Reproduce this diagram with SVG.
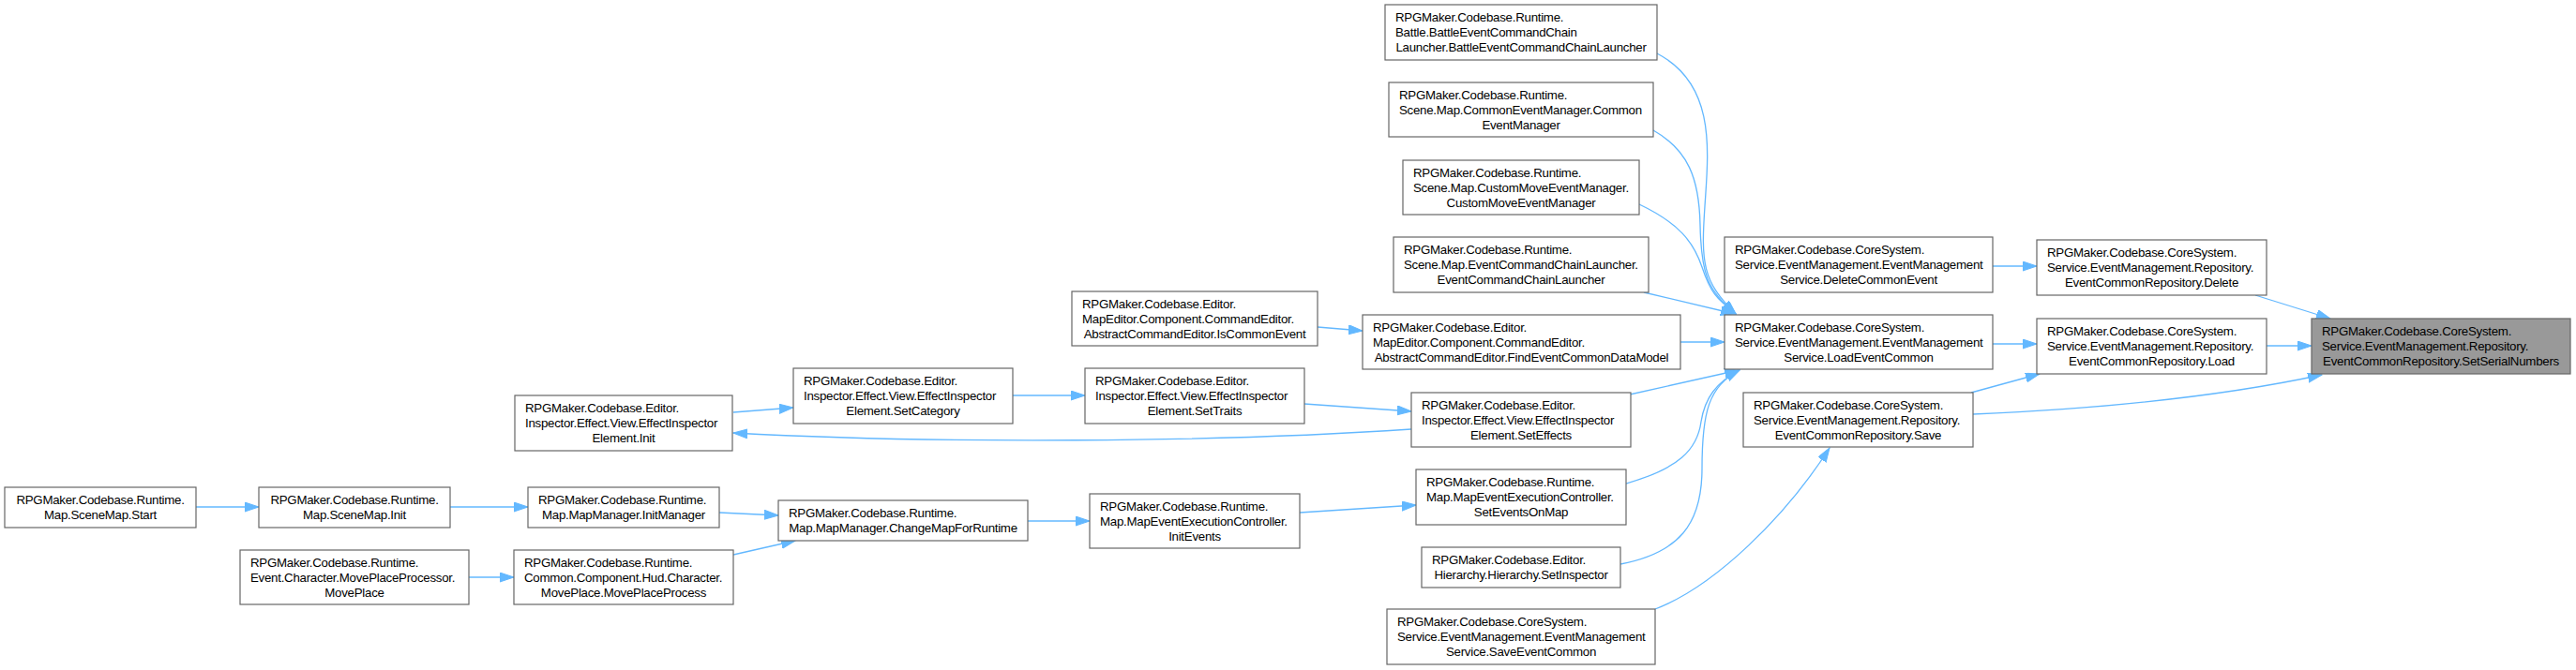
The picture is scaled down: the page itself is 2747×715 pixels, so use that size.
<svg xmlns="http://www.w3.org/2000/svg" width="2747" height="715" viewBox="0 0 2747 715">
<defs>
<style>
.n rect{fill:#ffffff;stroke:#666666;stroke-width:1.2}
.n.root rect{fill:#999999;stroke:#666666}
.n text{font-family:"Liberation Sans",Arial,sans-serif;font-size:13.3px;letter-spacing:-0.27px;fill:#000000}
.n text.c{text-anchor:middle}
.e path{fill:none;stroke:#63b8ff;stroke-width:1.3;marker-end:url(#ah)}
</style>
<marker id="ah" markerUnits="userSpaceOnUse" markerWidth="16" markerHeight="11" refX="15" refY="5" orient="auto" viewBox="0 0 16 11">
<path d="M0,0 L15,5 L0,10 z" fill="#63b8ff" stroke="#63b8ff" stroke-width="1"/>
</marker>
</defs>
<rect x="0" y="0" width="2747" height="715" fill="#ffffff"/>

<g id="connectors" class="e">
<path d="M2405,315 L2485,340"/>
<path d="M2417,369 L2465,369"/>
<path d="M2104,442 C2220,437 2360,425 2476,400"/>
<path d="M2102,419 L2175,399"/>
<path d="M2125,284 L2172,284"/>
<path d="M2125,367 L2172,367"/>
<path d="M1765,650 C1830,625 1905,550 1951,478"/>
<path d="M1767,57 C1830,90 1822,160 1818,220 S1815,300 1851,335"/>
<path d="M1763,139 C1800,160 1812,190 1813,240 S1820,310 1851,335"/>
<path d="M1748,218 C1790,238 1806,258 1815,285 S1830,318 1851,335"/>
<path d="M1753,312 L1850,335"/>
<path d="M1792,365 L1839,365"/>
<path d="M1738,421 L1854,395"/>
<path d="M1734,516 C1790,500 1810,480 1814,450 C1818,425 1830,408 1855,395"/>
<path d="M1728,602 C1790,590 1815,560 1815,500 C1815,440 1822,412 1855,395"/>
<path d="M1405,349 L1453,353"/>
<path d="M1391,431 L1505,439"/>
<path d="M1505,458 C1300,472 1000,474 782,462"/>
<path d="M782,440 L846,435"/>
<path d="M1080,422 L1157,422"/>
<path d="M209,541 L276,541"/>
<path d="M480,541 L563,541"/>
<path d="M500,616 L548,616"/>
<path d="M767,547 L830,550"/>
<path d="M782,592 L848,577"/>
<path d="M1096,556 L1162,556"/>
<path d="M1386,547 L1510,539"/>
</g>

<g id="n_setserialnumbers" class="n root">
<rect x="2465" y="340" width="276" height="59"/>
<text x="2476" y="358">RPGMaker.Codebase.CoreSystem.</text>
<text x="2476" y="374">Service.EventManagement.Repository.</text>
<text x="2603" y="390" class="c">EventCommonRepository.SetSerialNumbers</text>
</g>
<g id="n_repo_delete" class="n">
<rect x="2172" y="256" width="245" height="59"/>
<text x="2183" y="274">RPGMaker.Codebase.CoreSystem.</text>
<text x="2183" y="290">Service.EventManagement.Repository.</text>
<text x="2294.5" y="306" class="c">EventCommonRepository.Delete</text>
</g>
<g id="n_repo_load" class="n">
<rect x="2172" y="340" width="245" height="59"/>
<text x="2183" y="358">RPGMaker.Codebase.CoreSystem.</text>
<text x="2183" y="374">Service.EventManagement.Repository.</text>
<text x="2294.5" y="390" class="c">EventCommonRepository.Load</text>
</g>
<g id="n_deletecommonevent" class="n">
<rect x="1839" y="253" width="286" height="59"/>
<text x="1850" y="271">RPGMaker.Codebase.CoreSystem.</text>
<text x="1850" y="287">Service.EventManagement.EventManagement</text>
<text x="1982" y="303" class="c">Service.DeleteCommonEvent</text>
</g>
<g id="n_loadeventcommon" class="n">
<rect x="1839" y="336" width="286" height="58"/>
<text x="1850" y="354">RPGMaker.Codebase.CoreSystem.</text>
<text x="1850" y="370">Service.EventManagement.EventManagement</text>
<text x="1982" y="386" class="c">Service.LoadEventCommon</text>
</g>
<g id="n_repo_save" class="n">
<rect x="1859" y="419" width="245" height="58"/>
<text x="1870" y="437">RPGMaker.Codebase.CoreSystem.</text>
<text x="1870" y="453">Service.EventManagement.Repository.</text>
<text x="1981.5" y="469" class="c">EventCommonRepository.Save</text>
</g>
<g id="n_battlelauncher" class="n">
<rect x="1477" y="5" width="290" height="59"/>
<text x="1488" y="23">RPGMaker.Codebase.Runtime.</text>
<text x="1488" y="39">Battle.BattleEventCommandChain</text>
<text x="1622" y="55" class="c">Launcher.BattleEventCommandChainLauncher</text>
</g>
<g id="n_commoneventmanager" class="n">
<rect x="1481" y="88" width="282" height="58"/>
<text x="1492" y="106">RPGMaker.Codebase.Runtime.</text>
<text x="1492" y="122">Scene.Map.CommonEventManager.Common</text>
<text x="1622" y="138" class="c">EventManager</text>
</g>
<g id="n_custommove" class="n">
<rect x="1496" y="171" width="252" height="58"/>
<text x="1507" y="189">RPGMaker.Codebase.Runtime.</text>
<text x="1507" y="205">Scene.Map.CustomMoveEventManager.</text>
<text x="1622" y="221" class="c">CustomMoveEventManager</text>
</g>
<g id="n_eventcommandchainlauncher" class="n">
<rect x="1486" y="253" width="272" height="59"/>
<text x="1497" y="271">RPGMaker.Codebase.Runtime.</text>
<text x="1497" y="287">Scene.Map.EventCommandChainLauncher.</text>
<text x="1622" y="303" class="c">EventCommandChainLauncher</text>
</g>
<g id="n_findeventcommon" class="n">
<rect x="1453" y="336" width="339" height="58"/>
<text x="1464" y="354">RPGMaker.Codebase.Editor.</text>
<text x="1464" y="370">MapEditor.Component.CommandEditor.</text>
<text x="1622.5" y="386" class="c">AbstractCommandEditor.FindEventCommonDataModel</text>
</g>
<g id="n_seteffects" class="n">
<rect x="1505" y="419" width="234" height="58"/>
<text x="1516" y="437">RPGMaker.Codebase.Editor.</text>
<text x="1516" y="453">Inspector.Effect.View.EffectInspector</text>
<text x="1622" y="469" class="c">Element.SetEffects</text>
</g>
<g id="n_seteventsonmap" class="n">
<rect x="1510" y="501" width="224" height="59"/>
<text x="1521" y="519">RPGMaker.Codebase.Runtime.</text>
<text x="1521" y="535">Map.MapEventExecutionController.</text>
<text x="1622" y="551" class="c">SetEventsOnMap</text>
</g>
<g id="n_setinspector" class="n">
<rect x="1516" y="584" width="212" height="43"/>
<text x="1527" y="602">RPGMaker.Codebase.Editor.</text>
<text x="1622" y="618" class="c">Hierarchy.Hierarchy.SetInspector</text>
</g>
<g id="n_saveeventcommon" class="n">
<rect x="1479" y="650" width="286" height="59"/>
<text x="1490" y="668">RPGMaker.Codebase.CoreSystem.</text>
<text x="1490" y="684">Service.EventManagement.EventManagement</text>
<text x="1622" y="700" class="c">Service.SaveEventCommon</text>
</g>
<g id="n_iscommonevent" class="n">
<rect x="1143" y="311" width="262" height="58"/>
<text x="1154" y="329">RPGMaker.Codebase.Editor.</text>
<text x="1154" y="345">MapEditor.Component.CommandEditor.</text>
<text x="1274" y="361" class="c">AbstractCommandEditor.IsCommonEvent</text>
</g>
<g id="n_settraits" class="n">
<rect x="1157" y="393" width="234" height="59"/>
<text x="1168" y="411">RPGMaker.Codebase.Editor.</text>
<text x="1168" y="427">Inspector.Effect.View.EffectInspector</text>
<text x="1274" y="443" class="c">Element.SetTraits</text>
</g>
<g id="n_setcategory" class="n">
<rect x="846" y="393" width="234" height="59"/>
<text x="857" y="411">RPGMaker.Codebase.Editor.</text>
<text x="857" y="427">Inspector.Effect.View.EffectInspector</text>
<text x="963" y="443" class="c">Element.SetCategory</text>
</g>
<g id="n_effectinit" class="n">
<rect x="549" y="422" width="232" height="59"/>
<text x="560" y="440">RPGMaker.Codebase.Editor.</text>
<text x="560" y="456">Inspector.Effect.View.EffectInspector</text>
<text x="665" y="472" class="c">Element.Init</text>
</g>
<g id="n_initevents" class="n">
<rect x="1162" y="527" width="224" height="58"/>
<text x="1173" y="545">RPGMaker.Codebase.Runtime.</text>
<text x="1173" y="561">Map.MapEventExecutionController.</text>
<text x="1274" y="577" class="c">InitEvents</text>
</g>
<g id="n_changemap" class="n">
<rect x="830" y="534" width="266" height="43"/>
<text x="841" y="552">RPGMaker.Codebase.Runtime.</text>
<text x="963" y="568" class="c">Map.MapManager.ChangeMapForRuntime</text>
</g>
<g id="n_initmanager" class="n">
<rect x="563" y="520" width="204" height="43"/>
<text x="574" y="538">RPGMaker.Codebase.Runtime.</text>
<text x="665" y="554" class="c">Map.MapManager.InitManager</text>
</g>
<g id="n_moveplaceprocess" class="n">
<rect x="548" y="587" width="234" height="58"/>
<text x="559" y="605">RPGMaker.Codebase.Runtime.</text>
<text x="559" y="621">Common.Component.Hud.Character.</text>
<text x="665" y="637" class="c">MovePlace.MovePlaceProcess</text>
</g>
<g id="n_scenemapinit" class="n">
<rect x="276" y="520" width="204" height="43"/>
<text x="378" y="538" class="c">RPGMaker.Codebase.Runtime.</text>
<text x="378" y="554" class="c">Map.SceneMap.Init</text>
</g>
<g id="n_scenemapstart" class="n">
<rect x="5" y="520" width="204" height="43"/>
<text x="107" y="538" class="c">RPGMaker.Codebase.Runtime.</text>
<text x="107" y="554" class="c">Map.SceneMap.Start</text>
</g>
<g id="n_moveplace" class="n">
<rect x="256" y="587" width="244" height="58"/>
<text x="267" y="605">RPGMaker.Codebase.Runtime.</text>
<text x="267" y="621">Event.Character.MovePlaceProcessor.</text>
<text x="378" y="637" class="c">MovePlace</text>
</g>
</svg>
